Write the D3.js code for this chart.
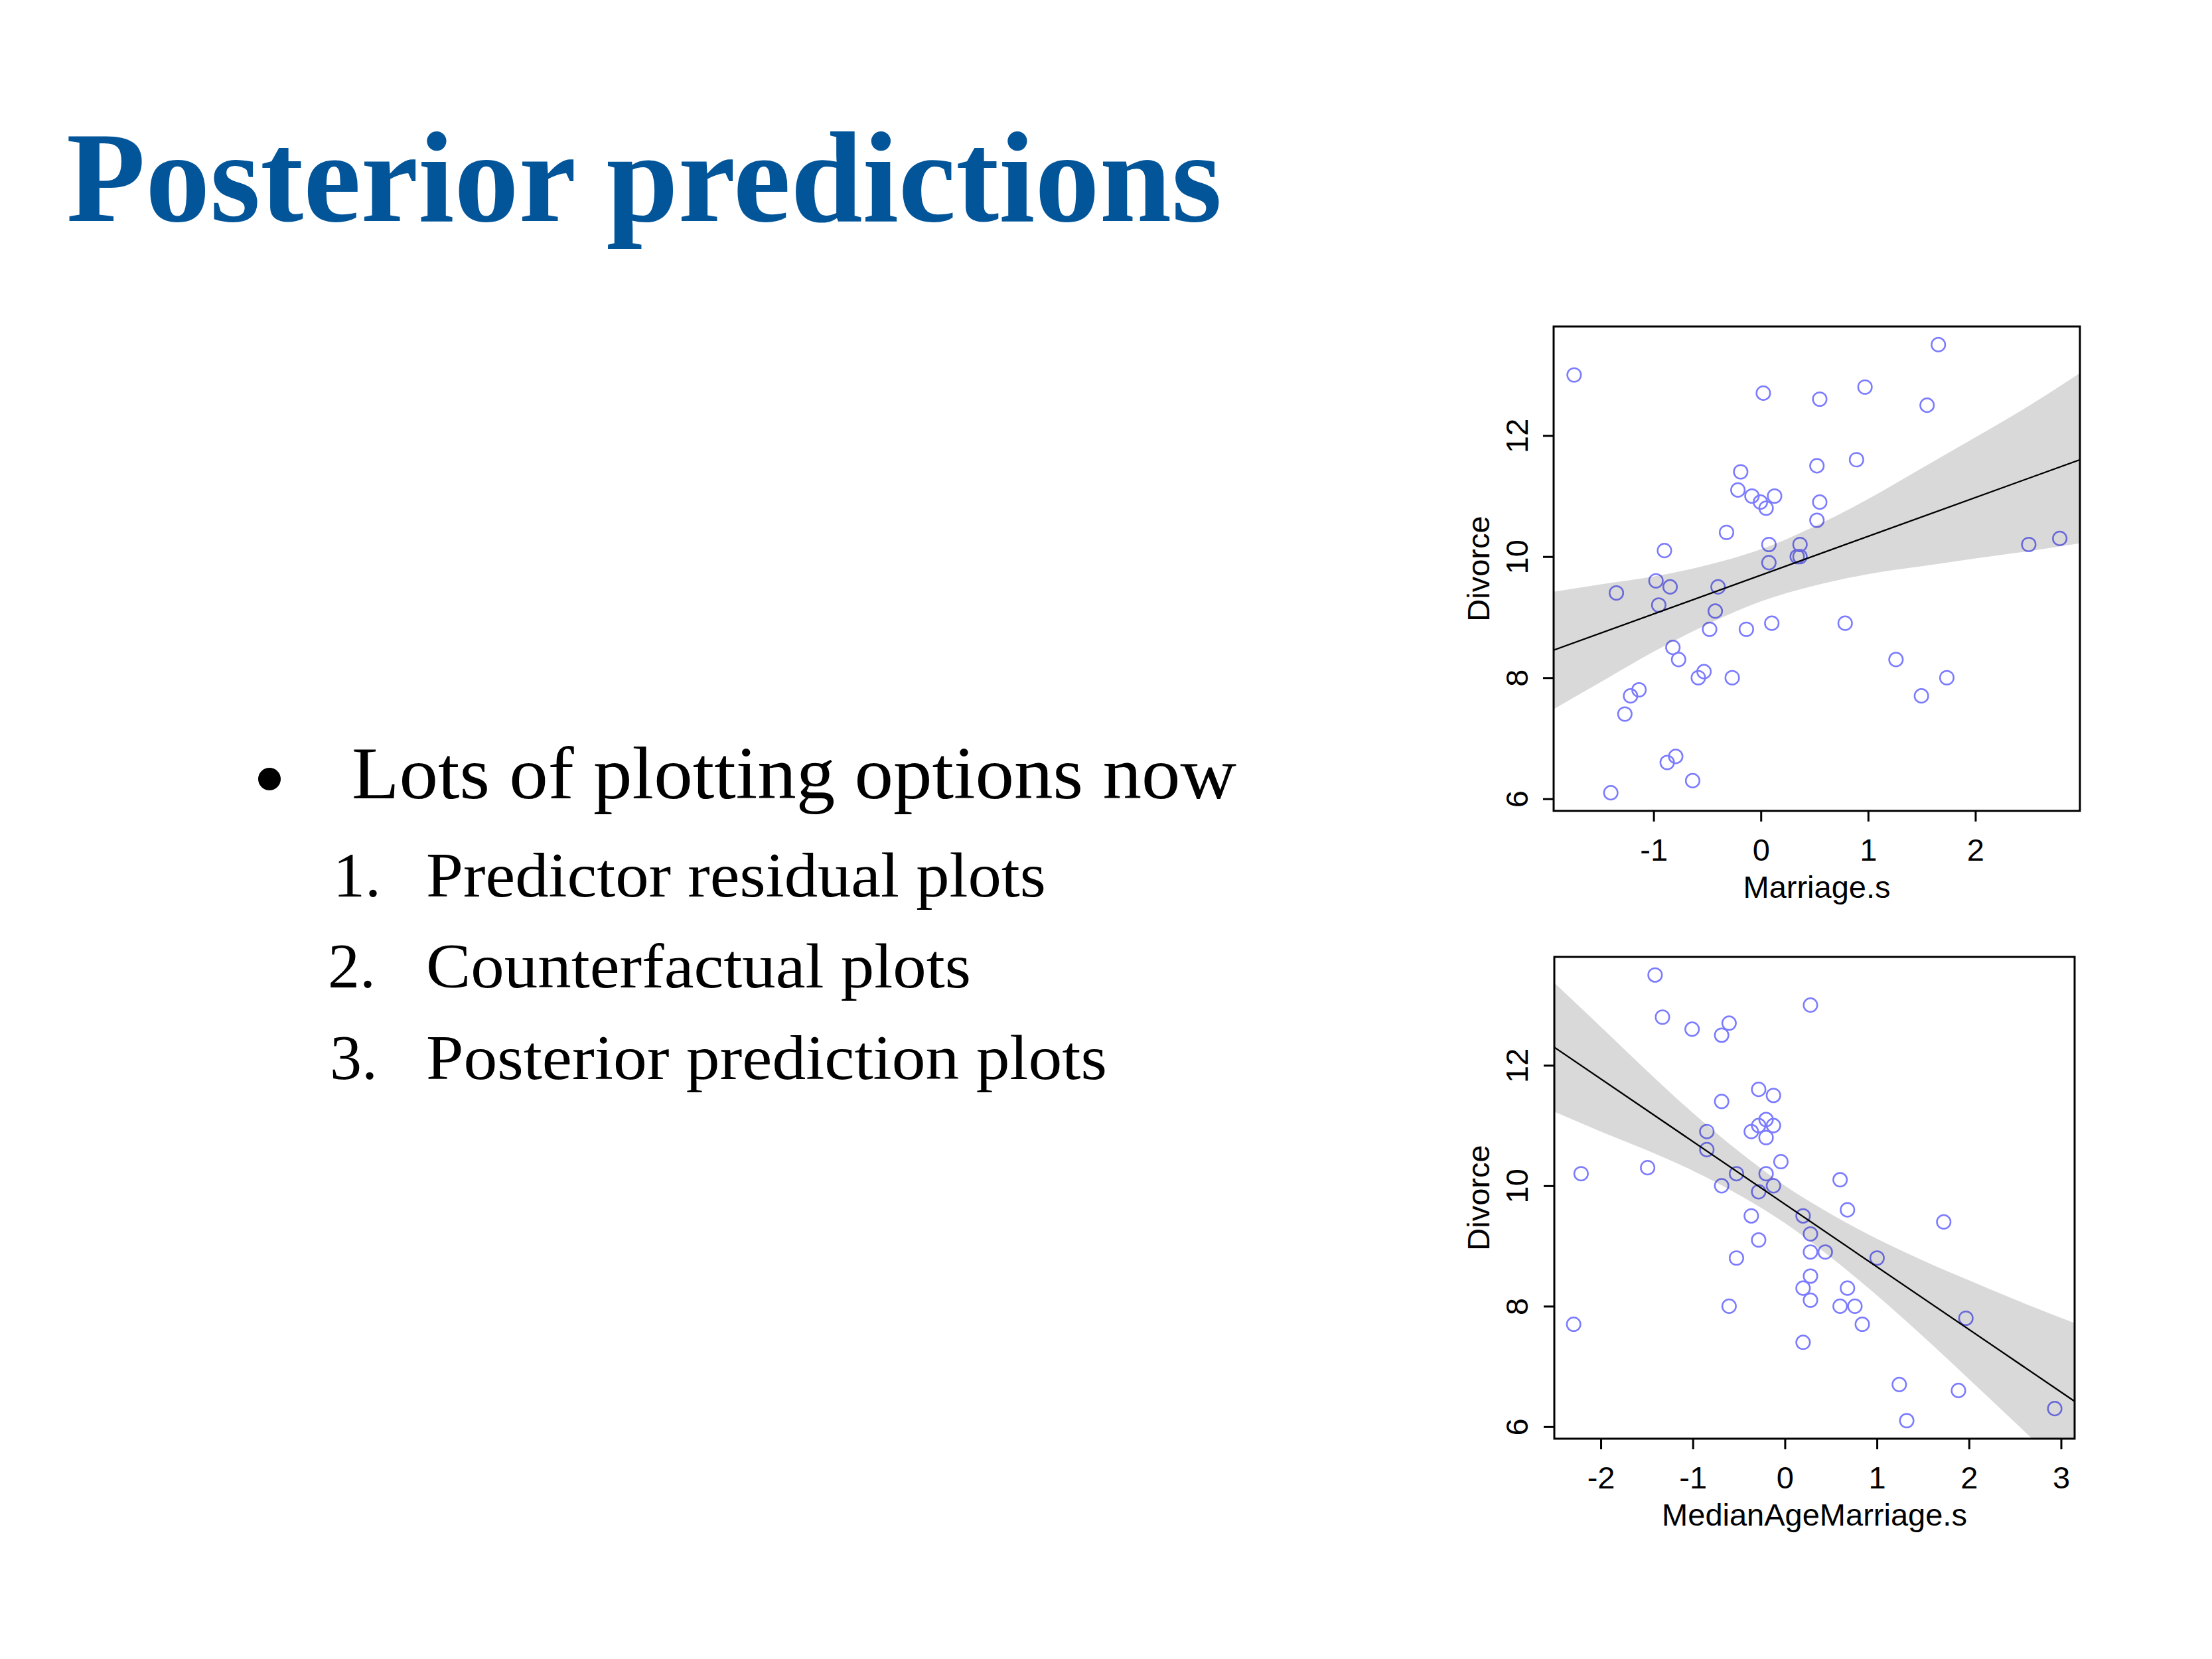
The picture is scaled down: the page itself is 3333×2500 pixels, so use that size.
<!DOCTYPE html>
<html>
<head>
<meta charset="utf-8">
<script src="https://cdn.jsdelivr.net/npm/d3@7"></script>
<style>
  body { margin: 0; background: #fff; }
</style>
</head>
<body>
<div id="viz"></div>
<script>
// slide size
const width = 3333;
const height = 2500;

// slide text
const titleText = "Posterior predictions";
const bulletText = "Lots of plotting options now";
const itemNums = ["1.", "2.", "3."];
const itemTexts = ["Predictor residual plots", "Counterfactual plots", "Posterior prediction plots"];

// one entry per state, same order in each array
const marriageS = [0.023, 1.550, 0.049, 1.655, -0.267, 0.892, -0.794, 0.786, -0.636, -0.820,
  0.523, 1.260, 1.497, -0.583, -0.083, 0.365, 0.523, 0.549, 0.128, -1.741,
  -0.478, -1.136, -0.952, -1.268, -0.214, -0.399, -0.425, -0.135, -0.899, -1.399,
  0.075, -0.873, 0.075, 1.734, -0.846, 0.971, -0.320, -1.215, -1.347, -0.530,
  -0.004, -0.188, 0.365, 2.498, -0.978, 0.102, 0.339, 0.549, -0.767, 2.787];
const medianAgeS = [-0.606, -0.687, -0.204, -1.410, 0.600, -0.285, 1.243, 0.439, 2.932, 0.278,
  -0.124, 0.680, -2.295, 0.761, -0.285, -0.526, -0.848, -1.008, -0.124, 0.278,
  1.002, 1.967, 0.278, 0.198, -0.204, -0.365, -0.285, -0.526, 0.600, 1.324,
  -0.204, 1.886, -0.285, -0.606, 0.198, -1.330, -0.043, 0.841, 1.726, 0.278,
  -0.365, -0.687, -0.687, -2.214, 0.680, 0.278, -0.124, -0.848, 0.198, -1.491];
const divorce = [12.7, 12.5, 10.8, 13.5, 8.0, 11.6, 6.7, 8.9, 6.3, 8.5,
  11.5, 8.3, 7.7, 8.0, 11.0, 10.2, 10.6, 12.6, 11.0, 13.0,
  8.8, 7.8, 9.2, 7.4, 11.1, 9.5, 9.1, 8.8, 10.1, 6.1,
  10.2, 6.6, 9.9, 8.0, 9.5, 12.8, 10.4, 7.7, 9.4, 8.1,
  10.9, 11.4, 10.0, 10.2, 9.6, 8.9, 10.0, 10.9, 8.3, 10.3];

// regression lines (end points) and 89% intervals
const topLine = [[-1.932, 8.455], [2.975, 11.60]];
const topBandX = [-1.932, -1.5, -1.0, -0.5, 0, 0.5, 1.0, 1.5, 2.0, 2.5, 2.975];
const topBandLo = [7.48, 7.92, 8.43, 8.88, 9.26, 9.52, 9.71, 9.84, 9.97, 10.09, 10.22];
const topBandHi = [9.42, 9.54, 9.67, 9.86, 10.12, 10.50, 10.95, 11.46, 11.97, 12.49, 13.03];

const botLine = [[-2.505, 12.30], [3.148, 6.42]];
const botBandX = [-2.505, -2.0, -1.5, -1.0, -0.5, 0, 0.5, 1.0, 1.5, 2.0, 2.5, 3.148];
const botBandLo = [11.23, 10.90, 10.59, 10.25, 9.85, 9.38, 8.81, 8.18, 7.50, 6.79, 6.07, 5.12];
const botBandHi = [13.37, 12.64, 11.91, 11.21, 10.57, 10.00, 9.53, 9.12, 8.76, 8.43, 8.11, 7.72];

// axis ticks
const yTicks = [6, 8, 10, 12];
const topXTicks = [-1, 0, 1, 2];
const botXTicks = [-2, -1, 0, 1, 2, 3];

const svg = d3.select("#viz").append("svg")
    .attr("width", width)
    .attr("height", height);

svg.append("rect").attr("width", width).attr("height", height).attr("fill", "#fff");

// title
svg.append("text")
    .attr("x", 100)
    .attr("y", 333)
    .attr("textLength", 1741)
    .attr("lengthAdjust", "spacingAndGlyphs")
    .style("font-family", "'Liberation Serif', 'Times New Roman', serif")
    .style("font-weight", "bold")
    .style("font-size", "194px")
    .style("fill", "#03559A")
    .text(titleText);

// bullet list
const serif = "'Liberation Serif', 'Times New Roman', serif";
svg.append("circle").attr("cx", 406).attr("cy", 1174).attr("r", 17).attr("fill", "#000");
svg.append("text")
    .attr("x", 530).attr("y", 1203)
    .attr("textLength", 1333).attr("lengthAdjust", "spacingAndGlyphs")
    .style("font-family", serif).style("font-size", "112px")
    .text(bulletText);

const itemY = [1351, 1488, 1626];
const itemNumX = [502, 494, 497];
const itemLen = [934, 821, 1026];
itemTexts.forEach((t, i) => {
    svg.append("text")
        .attr("x", itemNumX[i]).attr("y", itemY[i])
        .style("font-family", serif).style("font-size", "96px")
        .text(itemNums[i]);
    svg.append("text")
        .attr("x", 642).attr("y", itemY[i])
        .attr("textLength", itemLen[i]).attr("lengthAdjust", "spacingAndGlyphs")
        .style("font-family", serif).style("font-size", "96px")
        .text(t);
});

const sans = "'Liberation Sans', Arial, Helvetica, sans-serif";

function drawPanel(opt) {
    const x = d3.scaleLinear().domain(opt.xDomain).range([opt.left, opt.right]);
    const y = d3.scaleLinear().domain([5.80, 13.80]).range([opt.bottom, opt.top]);

    const g = svg.append("g");
    const clipId = "clip-" + opt.name;
    g.append("clipPath").attr("id", clipId)
        .append("rect")
        .attr("x", opt.left).attr("y", opt.top)
        .attr("width", opt.right - opt.left).attr("height", opt.bottom - opt.top);

    const inner = g.append("g").attr("clip-path", "url(#" + clipId + ")");

    // points first, then the shade over them, then the mean line
    inner.selectAll("circle")
        .data(opt.xs.map((v, i) => [v, divorce[i]]))
        .join("circle")
        .attr("cx", d => x(d[0]))
        .attr("cy", d => y(d[1]))
        .attr("r", 10.3)
        .attr("fill", "none")
        .attr("stroke", "#7B7BFF")
        .attr("stroke-width", 2.5);

    const band = opt.bandX.map((v, i) => ({ x: v, lo: opt.bandLo[i], hi: opt.bandHi[i] }));
    inner.append("path")
        .datum(band)
        .attr("d", d3.area()
            .x(d => x(d.x))
            .y0(d => y(d.lo))
            .y1(d => y(d.hi))
            .curve(d3.curveMonotoneX))
        .attr("fill", "#000")
        .attr("fill-opacity", 0.15);

    inner.append("path")
        .datum(opt.line)
        .attr("d", d3.line().x(d => x(d[0])).y(d => y(d[1])))
        .attr("stroke", "#000")
        .attr("stroke-width", 2.3)
        .attr("fill", "none");

    // axes
    const xAxis = g.append("g")
        .attr("transform", "translate(0," + opt.bottom + ")")
        .call(d3.axisBottom(x).tickValues(opt.xTicks).tickSize(16).tickFormat(d => String(d)));
    xAxis.select(".domain").remove();
    xAxis.selectAll("line").attr("stroke-width", 3);
    xAxis.selectAll("text")
        .attr("y", 75).attr("dy", 0)
        .style("font-family", sans).style("font-size", "47px").attr("fill", "#000");

    const yAxis = g.append("g")
        .attr("transform", "translate(" + opt.left + ",0)")
        .call(d3.axisLeft(y).tickValues(yTicks).tickSize(16).tickFormat(d => String(d)));
    yAxis.select(".domain").remove();
    yAxis.selectAll("line").attr("stroke-width", 3);
    yAxis.selectAll("text")
        .attr("x", 0).attr("y", -(opt.left - 2302)).attr("dy", 0)
        .attr("transform", "rotate(-90)")
        .attr("text-anchor", "middle")
        .style("font-family", sans).style("font-size", "47px").attr("fill", "#000");

    // frame
    g.append("rect")
        .attr("x", opt.left).attr("y", opt.top)
        .attr("width", opt.right - opt.left).attr("height", opt.bottom - opt.top)
        .attr("fill", "none").attr("stroke", "#000").attr("stroke-width", 3);

    // axis titles
    g.append("text")
        .attr("x", (opt.left + opt.right) / 2)
        .attr("y", opt.bottom + 131)
        .attr("text-anchor", "middle")
        .style("font-family", sans).style("font-size", "47px")
        .text(opt.xLabel);

    g.append("text")
        .attr("transform", "translate(2244," + (opt.top + opt.bottom) / 2 + ") rotate(-90)")
        .attr("text-anchor", "middle")
        .style("font-family", sans).style("font-size", "47px")
        .text("Divorce");
}

drawPanel({
    name: "top",
    left: 2341, right: 3134, top: 492, bottom: 1222,
    xDomain: [-1.932, 2.975],
    xs: marriageS,
    xTicks: topXTicks,
    line: topLine,
    bandX: topBandX, bandLo: topBandLo, bandHi: topBandHi,
    xLabel: "Marriage.s"
});

drawPanel({
    name: "bottom",
    left: 2342, right: 3126, top: 1442, bottom: 2168,
    xDomain: [-2.505, 3.148],
    xs: medianAgeS,
    xTicks: botXTicks,
    line: botLine,
    bandX: botBandX, bandLo: botBandLo, bandHi: botBandHi,
    xLabel: "MedianAgeMarriage.s"
});
</script>
</body>
</html>
